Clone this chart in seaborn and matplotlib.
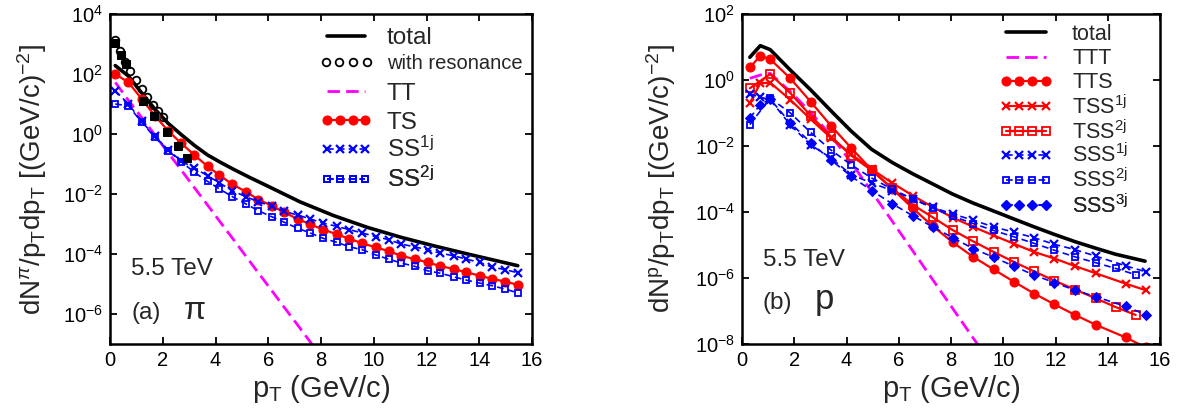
import numpy as np
import pandas as pd
import matplotlib
matplotlib.use("Agg")
import matplotlib.pyplot as plt
from matplotlib.ticker import FixedLocator, NullLocator, LogFormatterMathtext
import seaborn as sns

# ---------------- data: left panel (pion), values are log10 of yield ----------------
pi_pt = [0.2, 0.7, 1.2, 1.7, 2.2, 2.7, 3.2, 3.7, 4.15, 4.64, 5.15, 5.63, 6.14, 6.6,
         7.11, 7.59, 8.09, 8.6, 9.08, 9.57, 10.07, 10.56, 11.04, 11.55, 12.04, 12.52,
         13.03, 13.51, 14.01, 14.5, 14.99, 15.47]
pi_TS = [2.0, 1.72, 1.17, 0.61, 0.11, -0.31, -0.70, -1.08, -1.37, -1.68, -1.92, -2.19,
         -2.39, -2.61, -2.83, -3.01, -3.19, -3.34, -3.5, -3.64, -3.78, -3.9, -4.06,
         -4.17, -4.28, -4.4, -4.5, -4.61, -4.72, -4.83, -4.92, -5.03]
pi_SS1j = [1.44, 1.0, 0.42, -0.08, -0.53, -0.9, -1.14, -1.39, -1.63, -1.89, -2.09, -2.26,
           -2.41, -2.58, -2.7, -2.83, -2.97, -3.08, -3.19, -3.3, -3.42, -3.52, -3.67,
           -3.76, -3.86, -3.97, -4.06, -4.17, -4.28, -4.44, -4.52, -4.63]
pi_SS2j = [1.0, 0.94, 0.39, -0.11, -0.56, -0.92, -1.28, -1.58, -1.83, -2.09, -2.33, -2.56,
           -2.76, -2.94, -3.14, -3.3, -3.48, -3.61, -3.76, -3.86, -4.03, -4.17, -4.3,
           -4.41, -4.56, -4.64, -4.76, -4.87, -4.97, -5.06, -5.17, -5.3]
pi_TT_pt = [0.2, 0.7, 1.2, 1.7, 2.2, 2.7, 3.2, 3.7, 4.2, 4.7, 5.2, 5.6, 6.1, 6.6, 7.1, 7.6, 8.1]
pi_TT = [1.72, 1.12, 0.55, -0.03, -0.62, -1.2, -1.79, -2.37, -2.96, -3.54, -4.13, -4.6,
         -5.18, -5.77, -6.35, -6.94, -7.52]
pi_tot_pt = [0.2, 0.7, 1.2, 1.7, 2.2, 2.7, 3.2, 3.7, 4.2, 4.67, 5.3, 5.94, 7.2, 8.48,
             9.75, 11.02, 12.29, 13.56, 15.46]
pi_tot = [2.28, 1.93, 1.37, 0.83, 0.36, -0.02, -0.38, -0.7, -0.95, -1.17, -1.45, -1.72,
          -2.26, -2.72, -3.11, -3.44, -3.73, -4.0, -4.39]
pi_res_pt = [0.19, 0.38, 0.58, 0.76, 0.99, 1.2, 1.41, 1.62, 1.81, 2.0]
pi_res = [3.14, 2.78, 2.39, 2.11, 1.8, 1.5, 1.24, 0.97, 0.76, 0.56]
pi_dat_pt = [0.2, 0.41, 0.6, 1.24, 1.68, 2.17, 2.57, 2.91]
pi_dat = [3.02, 2.62, 2.33, 1.11, 0.6, 0.08, -0.39, -0.8]

# ---------------- data: right panel (proton) ----------------
p_ptB = [0.3, 0.7, 1.08, 1.85, 2.63, 3.4, 4.18, 4.96, 5.75, 6.53, 7.3, 8.07, 8.85,
         9.63, 10.4, 11.18, 11.96, 12.75, 13.55, 14.68, 15.45]
p_ptA = [0.3, 1.08, 1.85, 2.63, 3.4, 4.18, 4.96, 5.75, 6.53, 7.3, 8.07, 8.85, 9.63,
         10.4, 11.18, 11.96, 12.75, 13.55, 14.3, 15.07]
p_TTS = [0.38, 0.73, 0.63, 0.05, -0.66, -1.38, -2.06, -2.72, -3.3, -3.88, -4.43, -4.92,
         -5.36, -5.74, -6.11, -6.47, -6.8, -7.12, -7.42, -7.8, -8.1]
p_TSS1j = [-0.7, -0.1, -0.08, -0.6, -1.19, -1.75, -2.25, -2.7, -3.12, -3.5, -3.85, -4.17,
           -4.45, -4.71, -4.96, -5.21, -5.41, -5.64, -5.86, -6.17, -6.37]
p_TSS2j = [-0.25, 0.18, -0.4, -1.08, -1.71, -2.29, -2.74, -3.28, -3.78, -4.16, -4.55,
           -4.89, -5.21, -5.51, -5.8, -6.08, -6.35, -6.62, -6.88, -7.12]
p_SSS1j = [-0.42, -0.52, -0.6, -1.36, -1.97, -2.36, -2.87, -3.12, -3.35, -3.6, -3.86,
           -4.06, -4.25, -4.45, -4.61, -4.78, -4.98, -5.14, -5.34, -5.63, -5.81]
p_SSS2j = [-1.35, -0.55, -1.0, -1.59, -2.12, -2.57, -2.97, -3.31, -3.6, -3.88, -4.13,
           -4.35, -4.56, -4.75, -4.95, -5.16, -5.36, -5.54, -5.71, -5.9]
p_SSS3j = [-1.15, -0.75, -0.58, -1.3, -1.9, -2.42, -2.92, -3.35, -3.75, -4.11, -4.45,
           -4.78, -5.11, -5.37, -5.64, -5.91, -6.14, -6.37, -6.57, -6.86, -7.11]
p_TTT_pt = [0.3, 0.7, 1.08, 1.85, 2.63, 3.4, 4.18, 4.96, 5.75, 6.53, 7.3, 8.07, 8.85, 9.63]
p_TTT = [0.05, 0.15, 0.2, -0.35, -0.98, -1.68, -2.5, -3.38, -4.28, -5.17, -6.05, -6.93,
         -7.82, -8.7]
p_tot_pt = [0.3, 0.7, 1.08, 1.85, 2.63, 3.4, 4.18, 4.96, 5.75, 6.53, 7.3, 8.07, 8.85,
            9.63, 10.4, 11.18, 11.96, 12.75, 13.55, 14.3, 15.43]
p_tot = [0.69, 1.04, 0.92, 0.3, -0.3, -0.93, -1.55, -2.1, -2.5, -2.84, -3.15, -3.46,
         -3.73, -3.97, -4.21, -4.45, -4.68, -4.9, -5.1, -5.28, -5.49]

xticks = [0, 2, 4, 6, 8, 10, 12, 14, 16]
labL = ["total", "with resonance", "TT", "TS", r"SS$^{\rm 1j}$", r"SS$^{\rm 2j}$"]
labR = ["total", "TTT", "TTS", r"TSS$^{\rm 1j}$", r"TSS$^{\rm 2j}$", r"SSS$^{\rm 1j}$",
        r"SSS$^{\rm 2j}$", r"SSS$^{\rm 3j}$"]

# ---------------- style ----------------
sns.set_style("ticks")
FONT = "Liberation Sans"
plt.rcParams["font.family"] = [FONT, "DejaVu Sans"]
plt.rcParams["mathtext.fontset"] = "custom"
plt.rcParams["mathtext.rm"] = FONT
plt.rcParams["mathtext.it"] = FONT + ":italic"
plt.rcParams["mathtext.bf"] = FONT + ":bold"
plt.rcParams["axes.linewidth"] = 1.6

RED, BLUE, MAG = "#ff0000", "#0000ff", "#ff00ff"

fig = plt.figure(figsize=(11.79, 4.16), dpi=100)
axL = fig.add_axes([110 / 1179, 72 / 416, 422 / 1179, 330 / 416])
axR = fig.add_axes([742 / 1179, 72 / 416, 418 / 1179, 330 / 416])


def draw(ax, x, logy, **kw):
    y = np.power(10.0, np.asarray(logy, dtype=float))
    sns.lineplot(x=list(x), y=y, ax=ax, estimator=None, sort=False, legend=False, **kw)
    return ax.lines[-1]


# ---------------- left panel ----------------
hL = []
hL.append(draw(axL, pi_tot_pt, pi_tot, color="black", lw=2.6))
hL.append(draw(axL, pi_res_pt, pi_res, color="black", linestyle="none", marker="o",
               markersize=5.5, markerfacecolor="none", markeredgecolor="black", markeredgewidth=1.3))
hL.append(draw(axL, pi_TT_pt, pi_TT, color=MAG, lw=2.0, dashes=(4.5, 2.2)))
hL.append(draw(axL, pi_pt, pi_TS, color=RED, lw=1.6, marker="o", markersize=6.5,
               markeredgecolor=RED, markerfacecolor=RED))
hL.append(draw(axL, pi_pt, pi_SS1j, color=BLUE, lw=1.2, dashes=(4, 2.5), marker="x",
               markersize=5.5, markeredgewidth=1.6, markeredgecolor=BLUE))
hL.append(draw(axL, pi_pt, pi_SS2j, color=BLUE, lw=1.2, dashes=(4, 2.5), marker="s",
               markersize=5, markeredgewidth=1.3, markerfacecolor="none", markeredgecolor=BLUE))
draw(axL, pi_dat_pt, pi_dat, color="black", linestyle="none", marker="s", markersize=6,
     markeredgecolor="black", markerfacecolor="black")

# ---------------- right panel ----------------
hR = []
hR.append(draw(axR, p_tot_pt, p_tot, color="black", lw=2.6))
hR.append(draw(axR, p_TTT_pt, p_TTT, color=MAG, lw=2.0, dashes=(4.5, 2.2)))
hR.append(draw(axR, p_ptB, p_TTS, color=RED, lw=1.6, marker="o", markersize=6.5,
               markeredgecolor=RED, markerfacecolor=RED))
hR.append(draw(axR, p_ptB, p_TSS1j, color=RED, lw=1.6, marker="x", markersize=5.5,
               markeredgewidth=1.6, markeredgecolor=RED))
hR.append(draw(axR, p_ptA, p_TSS2j, color=RED, lw=1.6, marker="s", markersize=5.5,
               markeredgewidth=1.3, markerfacecolor="none", markeredgecolor=RED))
hR.append(draw(axR, p_ptB, p_SSS1j, color=BLUE, lw=1.2, dashes=(4, 2.5), marker="x",
               markersize=5.5, markeredgewidth=1.6, markeredgecolor=BLUE))
hR.append(draw(axR, p_ptA, p_SSS2j, color=BLUE, lw=1.2, dashes=(4, 2.5), marker="s",
               markersize=5, markeredgewidth=1.3, markerfacecolor="none", markeredgecolor=BLUE))
hR.append(draw(axR, p_ptB, p_SSS3j, color=BLUE, lw=1.2, dashes=(4, 2.5), marker="D",
               markersize=5.5, markeredgecolor=BLUE, markerfacecolor=BLUE))


def style(ax, ylo, yhi, yticks):
    ax.set_yscale("log")
    ax.set_xlim(0, 16)
    ax.set_ylim(ylo, yhi)
    ax.xaxis.set_major_locator(FixedLocator(xticks))
    ax.yaxis.set_major_locator(FixedLocator(yticks))
    ax.yaxis.set_minor_locator(NullLocator())
    ax.yaxis.set_major_formatter(LogFormatterMathtext())
    ax.tick_params(which="both", direction="in", top=True, right=True, length=5,
                   width=1.3, labelsize=14.5, pad=5, colors="black")
    for s in ax.spines.values():
        s.set_visible(True)
        s.set_color("black")
        s.set_linewidth(1.8)
    ax.set_xlabel(r"p$_{\rm T}$ (GeV/c)", fontsize=21, labelpad=2)


style(axL, 1e-7, 1e4, [1e-6, 1e-4, 1e-2, 1e0, 1e2, 1e4])
style(axR, 1e-8, 1e2, [1e-8, 1e-6, 1e-4, 1e-2, 1e0, 1e2])
axL.set_ylabel(r"dN$^{\pi}$/p$_{\rm T}$dp$_{\rm T}$ [(GeV/c)$^{-2}$]", fontsize=20)
axR.set_ylabel(r"dN$^{\rm p}$/p$_{\rm T}$dp$_{\rm T}$ [(GeV/c)$^{-2}$]", fontsize=20)
axL.yaxis.set_label_coords(-0.145, 0.5)
axR.yaxis.set_label_coords(-0.152, 0.5)


def legend_rows(ax, handles, labels, x0, ys, fs, hl, htp, sizes=None):
    """one single-entry legend per row so rows sit at the reference spacing"""
    for i, (h, lab, y) in enumerate(zip(handles, labels, ys)):
        f = fs if sizes is None or sizes[i] is None else sizes[i]
        lg = ax.legend([h], [lab], loc="center left", bbox_to_anchor=(x0, y),
                       bbox_transform=ax.transAxes, frameon=False, fontsize=f,
                       handlelength=hl * fs / f, handletextpad=htp * fs / f,
                       borderpad=0, borderaxespad=0, numpoints=4)
        lg.set_zorder(10)
        ax.add_artist(lg)


# row centres (axes fraction)
legend_rows(axL, hL, labL, 0.497, [0.927, 0.849, 0.758, 0.670, 0.589, 0.498],
            17.5, 2.18, 0.58, sizes=[None, 14.5, None, None, None, None])
legend_rows(axR, hR, labR, 0.617, [0.939, 0.864, 0.791, 0.719, 0.643, 0.571, 0.495, 0.418],
            15.5, 2.42, 0.93)

axL.text(0.05, 0.21, "5.5 TeV", transform=axL.transAxes, fontsize=17.5)
axL.text(0.05, 0.075, "(a)", transform=axL.transAxes, fontsize=17.5)
axL.text(0.175, 0.075, "π", transform=axL.transAxes, fontsize=23)
axR.text(0.05, 0.235, "5.5 TeV", transform=axR.transAxes, fontsize=17.5)
axR.text(0.05, 0.105, "(b)", transform=axR.transAxes, fontsize=17.5)
axR.text(0.175, 0.105, "p", transform=axR.transAxes, fontsize=25)

fig.savefig("out.png", dpi=100)
